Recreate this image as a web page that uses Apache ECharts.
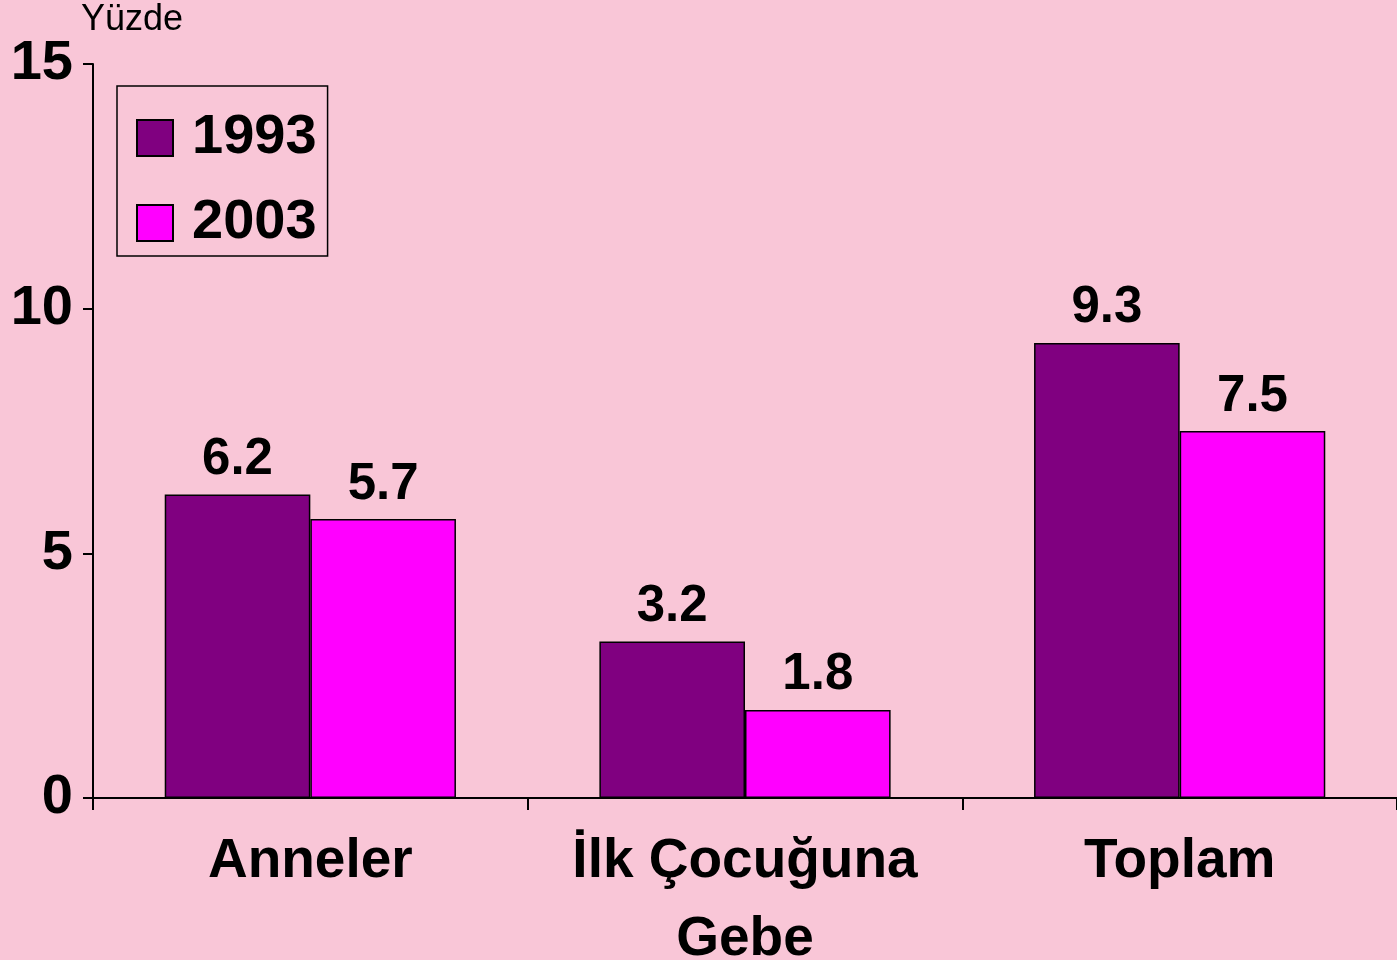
<!DOCTYPE html>
<html>
<head>
<meta charset="utf-8">
<script src="https://cdn.jsdelivr.net/npm/echarts@6/dist/echarts.min.js"></script>
<style>
  html, body { margin: 0; padding: 0; background: #f9c6d7; }
  #chart { width: 1397px; height: 960px; }
</style>
</head>
<body>
<div id="chart"></div>
<script>
const categories = ["Anneler", "İlk Çocuğuna\nGebe", "Toplam"];
const years = ["1993", "2003"];
const values1993 = [6.2, 3.2, 9.3];
const values2003 = [5.7, 1.8, 7.5];
const yTicks = [0, 5, 10, 15];

const font = "Arial, 'Liberation Sans', sans-serif";
var myChart = echarts.init(document.getElementById("chart"));

var labelStyle = {
  show: true,
  position: "top",
  distance: 9,
  color: "#000",
  fontFamily: font,
  fontWeight: "bold",
  fontSize: 51,
  formatter: (p) => p.value.toFixed(1),
};

var option = {
  backgroundColor: "#f9c6d7",
  animation: false,
  grid: { left: 93, right: 0, top: 64, bottom: 162, containLabel: false, outerBoundsMode: "none" },
  legend: {
    orient: "vertical",
    left: 117,
    top: 86,
    data: years,
    icon: "rect",
    itemWidth: 36,
    itemHeight: 36,
    itemGap: 29,
    padding: [24, 11, 5, 19],
    borderColor: "#000",
    borderWidth: 1.5,
    textStyle: {
      fontFamily: font,
      fontWeight: "bold",
      fontSize: 56,
      color: "#000",
      padding: [0, 0, 0, 14],
      lineHeight: 52,
    },
  },
  xAxis: {
    type: "category",
    data: categories,
    axisLine: { lineStyle: { color: "#000", width: 2 } },
    axisTick: { show: true, length: 12, alignWithLabel: false, lineStyle: { color: "#000", width: 2 } },
    axisLabel: {
      color: "#000",
      fontFamily: font,
      fontWeight: "bold",
      fontSize: 55,
      lineHeight: 78,
      margin: 25,
      interval: 0,
    },
  },
  yAxis: {
    type: "value",
    min: yTicks[0],
    max: yTicks[yTicks.length - 1],
    interval: 5,
    name: "Yüzde",
    nameLocation: "end",
    nameGap: 26,
    nameTextStyle: {
      color: "#000",
      fontFamily: font,
      fontSize: 36,
      align: "left",
      padding: [0, 0, 0, -12],
    },
    splitLine: { show: false },
    axisLine: { show: true, lineStyle: { color: "#000", width: 2 } },
    axisTick: { show: true, length: 10, lineStyle: { color: "#000", width: 2 } },
    axisLabel: {
      color: "#000",
      fontFamily: font,
      fontWeight: "bold",
      fontSize: 56,
      margin: 20,
    },
  },
  series: [
    {
      name: years[0],
      type: "bar",
      data: values1993,
      barGap: "0%",
      barCategoryGap: "33%",
      itemStyle: { color: "#800080", borderColor: "#000", borderWidth: 1.5 },
      label: labelStyle,
    },
    {
      name: years[1],
      type: "bar",
      data: values2003,
      itemStyle: { color: "#ff00ff", borderColor: "#000", borderWidth: 1.5 },
      label: labelStyle,
    },
  ],
};

myChart.setOption(option);
</script>
</body>
</html>
